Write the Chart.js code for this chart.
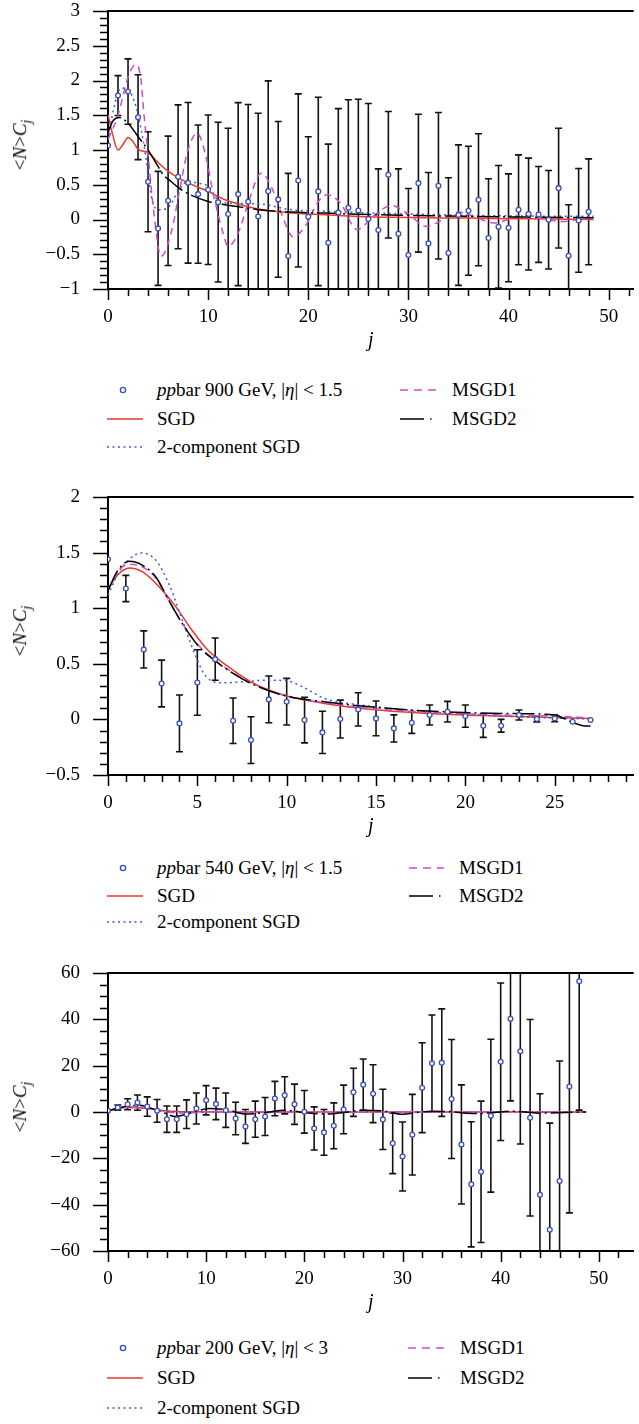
<!DOCTYPE html>
<html lang="en">
<head>
<meta charset="UTF-8">
<title>Combinants &lt;N&gt;C_j for ppbar data</title>
<script src="https://cdn.jsdelivr.net/npm/chart.js"></script>
<style>
  body { margin: 0; width: 639px; height: 1424px; position: relative; overflow: hidden; background: #fff;
         font-family: "Liberation Serif", "DejaVu Serif", serif; font-size: 19px; color: #000; }
  canvas { position: absolute; left: 0; }
  .yt { position: absolute; left: 22px; transform: translate(-50%, -50%) rotate(-90deg); white-space: nowrap; }
  .yt sub { font-size: 14px; }
  .lt { position: absolute; white-space: nowrap; line-height: 24px; }
  .smp { position: absolute; }
</style>
</head>
<body>
<canvas id="c900" width="639" height="374" style="top:-21px"></canvas>
<canvas id="c540" width="639" height="374" style="top:465px"></canvas>
<canvas id="c200" width="639" height="374" style="top:941px"></canvas>

<script>
// ---- pp̄ 900 GeV, |eta| < 1.5 ----
const j900 = [0,1,2,3,4,5,6,7,8,9,10,11,12,13,14,15,16,17,18,19,20,21,22,23,24,
              25,26,27,28,29,30,31,32,33,34,35,36,37,38,39,40,41,42,43,44,45,46,47,48];
const c900 = [1.065,1.783,1.841,1.472,0.543,-0.128,0.269,0.614,0.528,0.365,0.428,0.250,0.078,0.365,0.255,
              0.044,0.408,0.289,-0.526,0.562,0.040,0.404,-0.334,0.10,0.17,0.130,0.006,-0.152,0.643,-0.205,
              -0.511,0.523,-0.344,0.485,-0.483,0.063,0.126,0.284,-0.267,-0.104,-0.119,0.140,0.078,0.073,
              -0.004,0.451,-0.521,-0.013,0.111];
const e900 = [0,0.287,0.47,0.61,0.72,0.82,0.93,1.035,1.155,0.995,1.075,1.15,1.236,1.317,1.40,1.485,1.586,
              1.12,1.19,1.245,1.15,1.356,1.418,1.495,1.552,1.600,1.662,0.881,0.910,0.934,0.958,0.992,1.020,
              1.054,1.083,1.011,0.929,0.949,0.853,0.881,0.776,0.790,0.805,0.690,0.709,0.862,0.733,0.747,0.762];
const sgdX900 = [0,0.5,1,1.5,2,2.5,3,4,5,6,7,8.5,10,11.7,13.3,15,18.3,21.6,25,30,36,42,48.5];
const sgdY900 = [1.505,1.2,1.0,1.08,1.18,1.12,1.01,0.964,0.82,0.695,0.6,0.495,0.404,0.284,0.212,0.15,
                 0.092,0.068,0.044,0.03,0.02,0.01,0.0];
const twoX900 = [0,0.5,1.3,2,2.8,3.5,4,4.4,5.1,6.1,7.1,8,9,10,11,12,15,18.3,21.6,25,30,36,42,48.5];
const twoY900 = [1.15,1.55,1.89,1.865,1.625,1.146,0.667,0.284,0.14,0.188,0.428,0.547,0.523,0.476,0.284,
                 0.236,0.226,0.14,0.12,0.1,0.08,0.06,0.05,0.045];
const m1X900 = [0,1,2,2.5,2.9,3.3,3.6,4,4.5,5.3,6.3,7.1,7.9,8.9,9.7,10.5,11.4,12,13,14,15.3,16.3,17.3,18.5,
                19.9,20.9,21.9,23.2,24.9,26.5,28.3,30,31.8,33.5,35,36.8,38.5,40,41.5,43.5,45.3,47,48.5];
const m1Y900 = [1.15,1.5,2.05,2.2,2.224,2.0,1.5,0.95,0.2,-0.53,-0.195,0.38,0.955,1.242,0.955,0.38,-0.147,
                -0.387,-0.195,0.236,0.667,0.476,0.092,-0.25,-0.052,0.236,0.356,0.236,-0.147,0.05,0.2,0.08,
                -0.1,0.0,0.107,0.03,-0.05,0.0,0.06,0.01,-0.03,0.0,0.02];
const m2X900 = [0,0.5,1.1,2,3,4,4.8,5.6,6.1,7.1,8.1,10,11.7,13.3,15,18.3,21.6,25,30,36,42,48.5];
const m2Y900 = [1.25,1.42,1.467,1.386,1.194,1.0,0.811,0.629,0.571,0.451,0.365,0.26,0.212,0.178,0.14,
                0.107,0.092,0.075,0.06,0.045,0.035,0.025];

// ---- pp̄ 540 GeV, |eta| < 1.5 ----
const j540 = [0,1,2,3,4,5,6,7,8,9,10,11,12,13,14,15,16,17,18,19,20,21,22,23,24,25,26,27];
const c540 = [1.44,1.177,0.629,0.323,-0.036,0.332,0.542,-0.012,-0.186,0.18,0.159,-0.006,-0.117,0.003,
              0.09,0.009,-0.081,-0.03,0.039,0.069,0.03,-0.057,-0.057,0.039,0.003,0.009,-0.021,-0.006];
const e540 = [0,0.118,0.167,0.21,0.255,0.295,0.19,0.205,0.21,0.21,0.21,0.205,0.19,0.17,0.15,0.156,0.122,
              0.096,0.09,0.093,0.1,0.105,0.057,0.045,0.025,0.03,0,0];
const sgdX540 = [0,0.55,1.2,1.94,2.87,3.8,4.7,5.6,7,8,9,10,12.1,14.2,17.9,22,27];
const sgdY540 = [1.17,1.30,1.362,1.326,1.191,1.012,0.802,0.622,0.443,0.338,0.264,0.21,0.144,0.099,0.054,0.03,0.009];
const twoX540 = [0,0.6,1.2,1.85,2.68,3.4,4.16,4.7,5.5,6.4,7.6,8.8,10,10.9,12.1,14.2,17.9,22,27];
const twoY540 = [1.117,1.32,1.44,1.497,1.431,1.221,0.892,0.652,0.383,0.329,0.338,0.353,0.347,0.293,0.189,
                 0.129,0.069,0.03,0.003];
const m1X540 = [0,0.55,1.2,1.94,2.68,3.4,4.16,5.1,6,7,8,10,12.1,14.2,17.9,22,25,27];
const m1Y540 = [1.16,1.33,1.395,1.37,1.27,1.07,0.86,0.66,0.53,0.42,0.33,0.21,0.15,0.105,0.065,0.04,0.03,0.015];
const m2X540 = [0,0.55,1.2,1.94,2.68,3.4,4.16,5.1,5.95,7,8,10,12.1,14.2,17.9,22,25,25.9,26.8,27];
const m2Y540 = [1.16,1.341,1.422,1.386,1.281,1.072,0.862,0.652,0.533,0.413,0.323,0.21,0.159,0.12,0.075,
                0.054,0.039,-0.021,-0.06,-0.06];

// ---- pp̄ 200 GeV, |eta| < 3 ----
const j200 = [0,1,2,3,4,5,6,7,8,9,10,11,12,13,14,15,16,17,18,19,20,21,22,23,24,
              25,26,27,28,29,30,31,32,33,34,35,36,37,38,39,40,41,42,43,44,45,46,47,48];
const c200 = [0.49,1.9,3.35,4.07,2.35,0.49,-3.1,-3.1,-0.95,1.49,5.07,3.5,0.77,-2.8,-6.25,-3.1,-1.95,5.8,
              7.2,3.35,0.06,-7.1,-8.8,-5.96,1.1,8.5,11.8,7.9,-3.2,-13.5,-19.2,-9.8,10.5,21.0,21.3,5.6,
              -14.0,-31.2,-25.8,-1.6,21.7,40.2,26.2,-2.5,-35.7,-50.8,-29.8,10.96,56.4];
const e200 = [0,1.1,2.4,3.3,4.2,4.9,5.7,5.7,6.2,6.7,6.3,6.8,7.4,7.0,7.3,7.8,8.2,7.4,8.0,8.7,9.2,9.3,9.9,
              9.9,10.5,10.4,11.1,12.5,13.0,13.1,14.9,17.4,19.4,20.9,23.2,25.7,25.7,27.0,30.5,33.0,34.0,
              35.4,40.0,42.4,43.6,46.0,51.8,54.5,55.6];
const sgdX200 = [0,1,1.9,3,3.9,5,5.9,7,8.6,12,20,30,40,48.7];
const sgdY200 = [0.5,1.5,1.9,1.8,1.5,1.0,0.5,0.2,0.06,0,0,0,0,0];
const twoX200 = [0,1,2.5,4,5.5,7,9,12,20,30,40,48.7];
const twoY200 = [0.5,1.6,2.3,1.6,0.6,0.1,0,0,0,0,0,0];
const m1X200 = [0,1,2.5,4,5.5,7,9,11,13,16,20,25,30,35,40,45,48.7];
const m1Y200 = [0.5,1.6,2.2,1.5,0.4,-0.4,-0.3,0.3,0.1,-0.2,0.1,-0.1,0.1,-0.1,0.05,0,0];
const m2X200 = [0,1.5,3,5.2,6.9,8.6,10.3,12.3,14,16,18,20,22,24,26,28,30,31.5,33,34.8,36.5,37.5,39.4,
                41,42.5,44,46.7,48.7];
const m2Y200 = [0.5,2.2,2.9,0.5,-1.9,-0.2,1.5,0.8,-0.9,-0.2,0.8,-0.2,-0.9,-0.2,0.8,0.5,-1.0,-0.2,0.3,
                0.2,-0.5,-0.7,-0.2,0.3,0.05,-0.5,-0.2,0];

const BLUE = '#3b50b5', BLUE_DOT = '#3a5fcd', RED = '#e8392c', MAG = '#c94fc9';

Chart.defaults.font.family = '"Liberation Serif", "DejaVu Serif", serif';
Chart.defaults.font.size = 19;
Chart.defaults.color = '#000';

// error bars, drawn under the markers
const errorBars = {
  id: 'errorBars',
  beforeDatasetsDraw(chart, args, o) {
    const { ctx, chartArea: a, scales: { x, y } } = chart;
    ctx.save();
    ctx.beginPath();
    ctx.rect(a.left, a.top - 1, a.right - a.left, a.bottom - a.top + 2);
    ctx.clip();
    ctx.strokeStyle = '#111';
    ctx.lineWidth = 1.6;
    ctx.beginPath();
    o.j.forEach((j, i) => {
      const e = o.e[i];
      if (!e) return;
      const px = x.getPixelForValue(j);
      const t = y.getPixelForValue(o.c[i] + e), b = y.getPixelForValue(o.c[i] - e);
      ctx.moveTo(px, t); ctx.lineTo(px, b);
      ctx.moveTo(px - 3.5, t); ctx.lineTo(px + 3.5, t);
      ctx.moveTo(px - 3.5, b); ctx.lineTo(px + 3.5, b);
    });
    ctx.stroke();
    ctx.restore();
  }
};

// top frame line + major/minor tick marks
const frame = {
  id: 'frame',
  afterDraw(chart, args, o) {
    const { ctx, chartArea: a, scales: { x, y } } = chart;
    ctx.save();
    ctx.strokeStyle = '#000';
    ctx.lineWidth = 2;
    ctx.beginPath();
    ctx.moveTo(a.left - 1, a.top);
    ctx.lineTo(a.right, a.top);
    ctx.stroke();
    ctx.lineWidth = 1.5;
    ctx.beginPath();
    const ny = Math.round((y.max - y.min) / o.yMinor);
    for (let i = 0; i <= ny; i++) {
      const v = y.min + i * o.yMinor;
      const major = Math.abs(v / o.yMajor - Math.round(v / o.yMajor)) < 1e-6;
      const py = Math.round(y.getPixelForValue(v)) + 0.5;
      ctx.moveTo(a.left, py);
      ctx.lineTo(a.left - (major ? 15 : 8), py);
    }
    const nx = Math.floor(x.max / o.xMinor + 1e-6);
    for (let i = 0; i <= nx; i++) {
      const v = i * o.xMinor;
      const major = Math.abs(v / o.xMajor - Math.round(v / o.xMajor)) < 1e-6;
      const px = Math.round(x.getPixelForValue(v)) + 0.5;
      ctx.moveTo(px, a.bottom);
      ctx.lineTo(px, a.bottom + (major ? 11 : 7));
    }
    ctx.stroke();
    ctx.restore();
  }
};

function pts(xs, ys) {
  return xs.map((x, i) => ({ x: x, y: ys[i] }));
}

function curve(label, xs, ys, color, dash) {
  return {
    label: label, data: pts(xs, ys), showLine: true, borderColor: color, borderWidth: 1.5,
    borderDash: dash, pointRadius: 0, cubicInterpolationMode: 'monotone', fill: false
  };
}

function build(id, p) {
  return new Chart(document.getElementById(id), {
    type: 'scatter',
    data: {
      datasets: [
        { label: 'data', data: pts(p.j, p.c), showLine: false, pointRadius: 2.4, pointBorderWidth: 1.3,
          pointBackgroundColor: '#fff', pointBorderColor: BLUE },
        curve('MSGD2', p.m2X, p.m2Y, '#000', [22, 4, 2, 4]),
        curve('MSGD1', p.m1X, p.m1Y, MAG, [7, 5]),
        curve('2-component SGD', p.twoX, p.twoY, BLUE_DOT, [2, 3.5]),
        curve('SGD', p.sgdX, p.sgdY, RED, [])
      ]
    },
    options: {
      responsive: false,
      animation: false,
      events: [],
      // the y tick padding also pads the chart area top (about 31px), so 32 keeps it fixed
      layout: { padding: { top: 32, left: 0, right: 0, bottom: 0 } },
      plugins: {
        legend: { display: false },
        tooltip: { enabled: false },
        errorBars: { j: p.j, c: p.c, e: p.e },
        frame: { xMinor: p.xMinor, xMajor: p.xStep, yMinor: p.yMinor, yMajor: p.yStep }
      },
      scales: {
        x: {
          type: 'linear', position: 'bottom', min: 0, max: p.xMax,
          grid: { display: false },
          border: { color: '#000', width: 2 },
          ticks: { stepSize: p.xStep, includeBounds: false, padding: 9, maxRotation: 0, autoSkip: false },
          title: { display: true, text: 'j', font: { style: 'italic', size: 20 }, padding: 0 },
          afterFit: s => { s.height = 64; }
        },
        y: {
          type: 'linear', min: p.yMin, max: p.yMax,
          grid: { display: false },
          border: { color: '#000', width: 2 },
          ticks: {
            stepSize: p.yStep, includeBounds: false, padding: 20, autoSkip: false,
            callback: v => String(+v.toFixed(2)).replace('-', '\u2212')
          },
          afterFit: s => { s.width = 108; }
        }
      }
    },
    plugins: [errorBars, frame]
  });
}

build('c900', { j: j900, c: c900, e: e900, sgdX: sgdX900, sgdY: sgdY900, twoX: twoX900, twoY: twoY900,
  m1X: m1X900, m1Y: m1Y900, m2X: m2X900, m2Y: m2Y900,
  xMax: 52.5, xStep: 10, xMinor: 2, yMin: -1, yMax: 3, yStep: 0.5, yMinor: 0.1 });
build('c540', { j: j540, c: c540, e: e540, sgdX: sgdX540, sgdY: sgdY540, twoX: twoX540, twoY: twoY540,
  m1X: m1X540, m1Y: m1Y540, m2X: m2X540, m2Y: m2Y540,
  xMax: 29.42, xStep: 5, xMinor: 1, yMin: -0.5, yMax: 2, yStep: 0.5, yMinor: 0.1 });
build('c200', { j: j200, c: c200, e: e200, sgdX: sgdX200, sgdY: sgdY200, twoX: twoX200, twoY: twoY200,
  m1X: m1X200, m1Y: m1Y200, m2X: m2X200, m2Y: m2Y200,
  xMax: 53.55, xStep: 10, xMinor: 2, yMin: -60, yMax: 60, yStep: 20, yMinor: 5 });

// y-axis titles
[145, 631, 1107].forEach(cy => {
  document.body.insertAdjacentHTML('beforeend',
    `<div class="yt" style="top:${cy}px">&lt;<i>N</i>&gt;<i>C</i><sub><i>j</i></sub></div>`);
});

// legends below each panel
function legend(rows, c2, c2text, label) {
  const seg = (x1, x2, y, color, dash) =>
    `<svg class="smp" style="left:${x1}px;top:${y - 4}px" width="${x2 - x1}" height="8">` +
    `<line x1="0" y1="4" x2="${x2 - x1}" y2="4" stroke="${color}" stroke-width="1.5" stroke-dasharray="${dash}"/></svg>`;
  const txt = (x, y, html) => `<div class="lt" style="left:${x}px;top:${y - 12}px">${html}</div>`;
  let h = `<svg class="smp" style="left:118px;top:${rows[0] - 5}px" width="10" height="10">` +
          `<circle cx="5" cy="5" r="2.6" fill="#fff" stroke="${BLUE}" stroke-width="1.4"/></svg>`;
  h += txt(157, rows[0], label);
  h += seg(107, 143, rows[1], RED, 'none');
  h += txt(157, rows[1], 'SGD');
  h += seg(107, 143, rows[2], BLUE_DOT, '2 3.5');
  h += txt(157, rows[2], '2-component SGD');
  h += seg(c2[0], c2[1], rows[0], MAG, '8 6');
  h += txt(c2text, rows[0], 'MSGD1');
  h += seg(c2[0], c2[1], rows[1], '#000', '24 6 1.5 6');
  h += txt(c2text, rows[1], 'MSGD2');
  document.body.insertAdjacentHTML('beforeend', h);
}

legend([390, 419, 447], [400, 437], 452, '<i>pp</i>bar 900 GeV, |<i>η</i>| &lt; 1.5');
legend([868, 896, 922], [409, 444], 459, '<i>pp</i>bar 540 GeV, |<i>η</i>| &lt; 1.5');
legend([1348, 1378, 1408], [408, 445], 460, '<i>pp</i>bar 200 GeV, |<i>η</i>| &lt; 3');
</script>
</body>
</html>
